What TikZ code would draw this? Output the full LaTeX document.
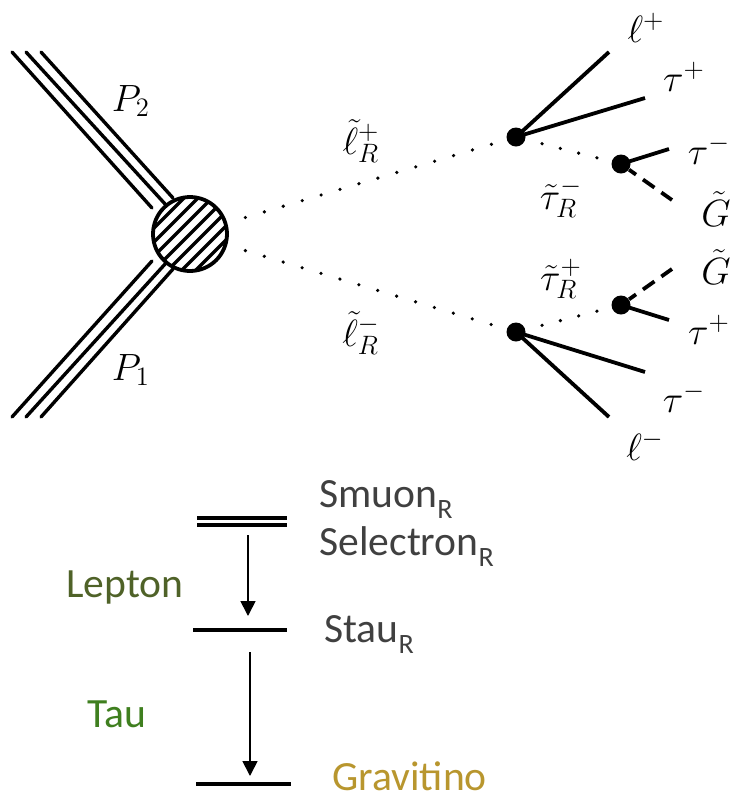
\RequirePackage{fix-cm}
\documentclass[tikz,border=0pt]{standalone}
\usepackage{fontspec}
\setmainfont{Carlito}
\usetikzlibrary{arrows.meta}
\definecolor{lvlgray}{HTML}{404040}
\definecolor{leptoncol}{HTML}{4F6228}
\definecolor{taucol}{HTML}{3F7F1F}
\definecolor{gravcol}{HTML}{B8962E}
\newcommand{\subR}{\raisebox{-5.5pt}{\fontsize{14}{16}\selectfont R}}

\begin{document}
\begin{tikzpicture}[x=.5pt, y=-.5pt,
        beam/.style={line width=1.7pt, line cap=round},
        hatch/.style={line width=1.6pt},
        leg/.style={line width=1.9pt},
        gino/.style={leg, dash pattern=on 7pt off 4.25pt, dash phase=2.75pt},
        scalar/.style={line width=1.8pt, line cap=round, dash pattern=on 0pt off 9.87pt, dash phase=.4pt},
        stau/.style={scalar, dash pattern=on 0pt off 9.45pt, dash phase=.95pt},
        vx/.style={circle, fill=black, minimum size=9.5pt, inner sep=0pt},
        lab/.style={font=\fontsize{19}{21}\selectfont},
        lvl/.style={line width=1.8pt},
        decay/.style={line width=.85pt, -{Triangle[length=7.5pt, width=7.5pt]}},
        txt/.style={anchor=base west, inner sep=0pt, font=\fontsize{20.8}{24}\selectfont}]
      \useasboundingbox (0,0) rectangle (733,794);

      % incoming protons
      \coordinate (a0) at (12,52);
      \coordinate (a1) at (26,52);
      \coordinate (a2) at (41,52);
      \coordinate (b0) at (12,417);
      \coordinate (b1) at (26,417);
      \coordinate (b2) at (41,417);
      \coordinate (a3) at (152,208);
      \coordinate (a4) at (166,205);
      \coordinate (a5) at (173,198);
      \coordinate (b3) at (152,261);
      \coordinate (b4) at (166,263);
      \coordinate (b5) at (173,269);
      \draw[beam] (a0) -- (a3);
      \draw[beam] (a1) -- (a4);
      \draw[beam] (a2) -- (a5);
      \draw[beam] (b0) -- (b3);
      \draw[beam] (b1) -- (b4);
      \draw[beam] (b2) -- (b5);
      \node[lab] (p2) at (131,101) {$P_2$};
      \node[lab] (p1) at (131,370) {$P_1$};

      % blob
      \node[circle, draw, line width=1.9pt, fill=white, minimum size=37pt, inner sep=0pt,
        path picture={
          \foreach \d in {-35,-28,...,35}
            \draw[hatch] ([shift={({\d-45},{\d+45})}]path picture bounding box.center)
              -- ([shift={({\d+45},{\d-45})}]path picture bounding box.center);
        }] (blob) at (190,234) {};

      % vertices
      \node[vx] (v1) at (516,137) {};
      \node[vx] (v2) at (621,164) {};
      \node[vx] (v3) at (516,332) {};
      \node[vx] (v4) at (621,305) {};
      \draw[scalar] (blob) -- (v1);
      \draw[scalar] (blob) -- (v3);
      \draw[stau] (v1) -- (v2);
      \draw[stau] (v3) -- (v4);
      \node[lab] (sl1) at (361,141) {$\tilde{\ell}_R^+$};
      \node[lab] (sl2) at (361,333) {$\tilde{\ell}_R^-$};
      \node[lab] (st1) at (561,198) {$\tilde{\tau}_R^-$};
      \node[lab] (st2) at (561,279) {$\tilde{\tau}_R^+$};

      % upper decay
      \coordinate (e1) at (609,52);
      \coordinate (e2) at (645,98);
      \coordinate (e3) at (669,149);
      \coordinate (e4) at (672,200);
      \draw[leg] (v1.center) -- (e1);
      \draw[leg] (v1.center) -- (e2);
      \draw[leg] (v2.center) -- (e3);
      \draw[gino] (v2) -- (e4);
      \node[lab] (l1) at (646,28) {$\ell^+$};
      \node[lab] (t1) at (684,77) {$\tau^+$};
      \node[lab] (t2) at (709,150) {$\tau^-$};
      \node[lab] (g1) at (716,209) {$\tilde{G}$};

      % lower decay
      \coordinate (e5) at (609,417);
      \coordinate (e6) at (645,372);
      \coordinate (e7) at (669,320);
      \coordinate (e8) at (672,269);
      \draw[leg] (v3.center) -- (e5);
      \draw[leg] (v3.center) -- (e6);
      \draw[leg] (v4.center) -- (e7);
      \draw[gino] (v4) -- (e8);
      \node[lab] (l2) at (645,446) {$\ell^-$};
      \node[lab] (t3) at (684,398) {$\tau^-$};
      \node[lab] (t4) at (709,330) {$\tau^+$};
      \node[lab] (g2) at (716,267) {$\tilde{G}$};

      % mass levels
      \coordinate (s0) at (197,518);
      \coordinate (s1) at (287,518);
      \coordinate (s2) at (197,525);
      \coordinate (s3) at (287,525);
      \coordinate (m0) at (193,630);
      \coordinate (m1) at (287,630);
      \coordinate (n0) at (196,784);
      \coordinate (n1) at (291,784);
      \draw[lvl] (s0) -- (s1);
      \draw[lvl] (s2) -- (s3);
      \draw[lvl] (m0) -- (m1);
      \draw[lvl] (n0) -- (n1);
      \coordinate (d0) at (248,535);
      \coordinate (d1) at (248,616);
      \coordinate (d2) at (250,652);
      \coordinate (d3) at (250,776);
      \draw[decay] (d0) -- (d1);
      \draw[decay] (d2) -- (d3);

      \node[txt, text=lvlgray] (smu) at (319,507) {Smuon\subR};
      \node[txt, text=lvlgray] (sel) at (319,555) {Selectron\subR};
      \node[txt, text=lvlgray] (sta) at (324,642) {Stau\subR};
      \node[txt, text=gravcol] (gra) at (332,790) {Gravitino};
      \node[txt, text=leptoncol] (lep) at (66,597) {Lepton};
      \node[txt, text=taucol] (tau) at (87,727) {Tau};
    \end{tikzpicture}
\end{document}
